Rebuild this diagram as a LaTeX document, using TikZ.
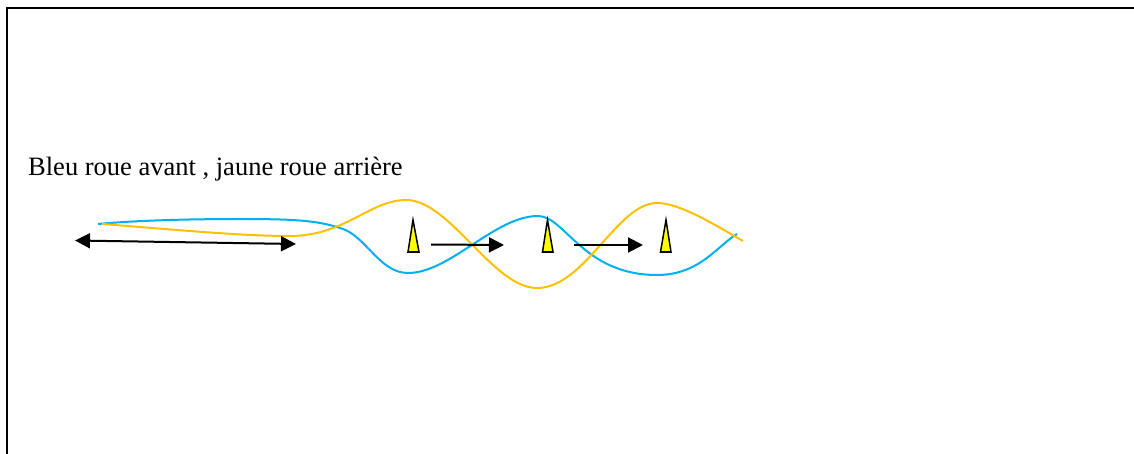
\documentclass[tikz,border=0pt]{standalone}
\usepackage{fontspec}
\setmainfont{Liberation Serif}
\usetikzlibrary{arrows.meta}
\definecolor{wheelblue}{HTML}{00B0F0}
\definecolor{wheelgold}{HTML}{FFC000}
\definecolor{conefill}{HTML}{FFFF00}
\tikzset{
  frameline/.style={line width=2pt, black},
  bluepath/.style={line width=2pt, wheelblue},
  goldpath/.style={line width=2pt, wheelgold},
  moveline/.style={line width=2pt, black, -{Triangle[length=15pt,width=15pt]}},
  bothline/.style={line width=2pt, black, {Triangle[length=15pt,width=15pt]}-{Triangle[length=15pt,width=15pt]}},
  cone/.style={draw=black, line width=1.5pt, fill=conefill, line join=miter},
  caption/.style={anchor=base west, inner sep=0pt, font=\fontsize{26.5}{30}\selectfont}
}
\begin{document}
\begin{tikzpicture}[x=1pt,y=-1pt]
\useasboundingbox (0,0) rectangle (1134,454);
% frame (top and left edges)
\coordinate (ftl) at (6.5,8.5);
\coordinate (ftr) at (1140,8.5);
\coordinate (fbl) at (6.5,460);
\draw[frameline] (ftr) -- (ftl) -- (fbl);
% caption
\node[caption] (cap) at (28,176) {Bleu roue avant , jaune roue arrière};
% blue curve (front wheel)
\draw[bluepath] (98,224) .. controls (140,220) and (200,219) .. (240,219)
  .. controls (300,219) and (320,221) .. (343,229)
  .. controls (366,237) and (380,273) .. (408,273)
  .. controls (450,273) and (495,216) .. (538,216)
  .. controls (565,216) and (583,275) .. (657,275)
  .. controls (700,275) and (718,245) .. (737,234);
% gold curve (rear wheel)
\draw[goldpath] (102,224) .. controls (180,230) and (240,236) .. (290,236)
  .. controls (345,236) and (370,200) .. (406,200)
  .. controls (450,200) and (493,288) .. (537,288)
  .. controls (585,288) and (617,203) .. (657,203)
  .. controls (680,203) and (715,225) .. (743,241);
% double arrow
\coordinate (dl) at (75,240.5);
\coordinate (dr) at (296,244);
\draw[bothline] (dl) -- (dr);
% cones
\draw[cone] (413,220) -- (419,252) -- (408,252) -- cycle;
\draw[cone] (547.5,220) -- (553,252) -- (542.5,252) -- cycle;
\draw[cone] (666,220) -- (671,252) -- (660.5,252) -- cycle;
% movement arrows
\coordinate (a1s) at (431,244.5);
\coordinate (a1e) at (504,245);
\coordinate (a2s) at (574,245);
\coordinate (a2e) at (643,245);
\draw[moveline] (a1s) -- (a1e);
\draw[moveline] (a2s) -- (a2e);
\end{tikzpicture}
\end{document}
